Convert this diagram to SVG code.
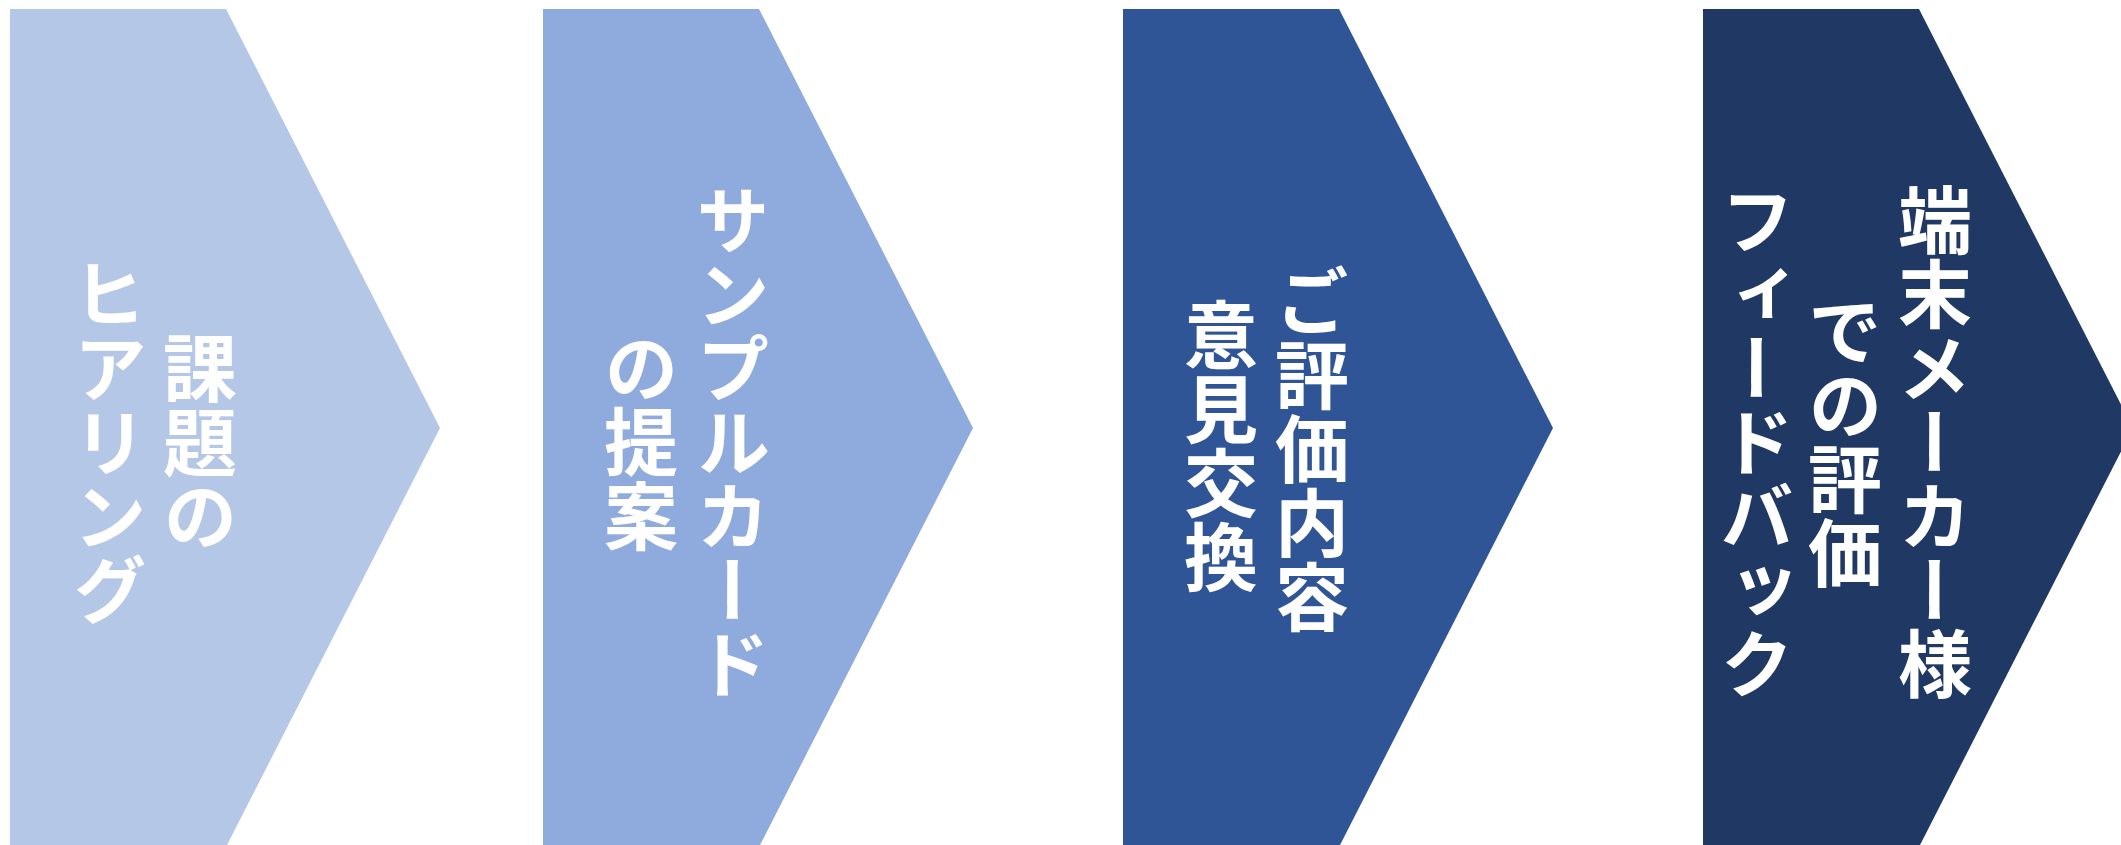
<svg xmlns="http://www.w3.org/2000/svg" width="2121" height="845" viewBox="0 0 2121 845">
<style>
.lbl{font-family:"Noto Sans CJK JP","Noto Sans CJK SC",sans-serif;font-size:74px;font-weight:700;fill:#FFFFFF;writing-mode:vertical-rl;text-anchor:middle}
.c1{fill:#B4C7E7}.c2{fill:#8FAADC}.c3{fill:#2F5597}.c4{fill:#203864}
</style>
<rect width="2121" height="845" fill="#FFFFFF"/>
<g id="connectors"/>
<g id="step1">
<polygon class="c1" points="10,9 226,9 440,428 226,847 10,847"/>
<text class="lbl" x="200" y="442">課題の</text>
<text class="lbl" x="110" y="442">ヒアリング</text>
</g>
<g id="step2">
<polygon class="c2" points="543,9 759,9 973,428 759,847 543,847"/>
<text class="lbl" x="733" y="442">サンプルカード</text>
<text class="lbl" x="641" y="442">の提案</text>
</g>
<g id="step3">
<polygon class="c3" points="1123,9 1339,9 1553,428 1339,847 1123,847"/>
<text class="lbl" x="1312" y="449">ご評価内容</text>
<text class="lbl" x="1221" y="446">意見交換</text>
</g>
<g id="step4">
<polygon class="c4" points="1703,9 1919,9 2133,428 1919,847 1703,847"/>
<text class="lbl" x="1935" y="442">端末メーカー様</text>
<text class="lbl" x="1845" y="442">での評価</text>
<text class="lbl" x="1757" y="442">フィードバック</text>
</g>
</svg>
